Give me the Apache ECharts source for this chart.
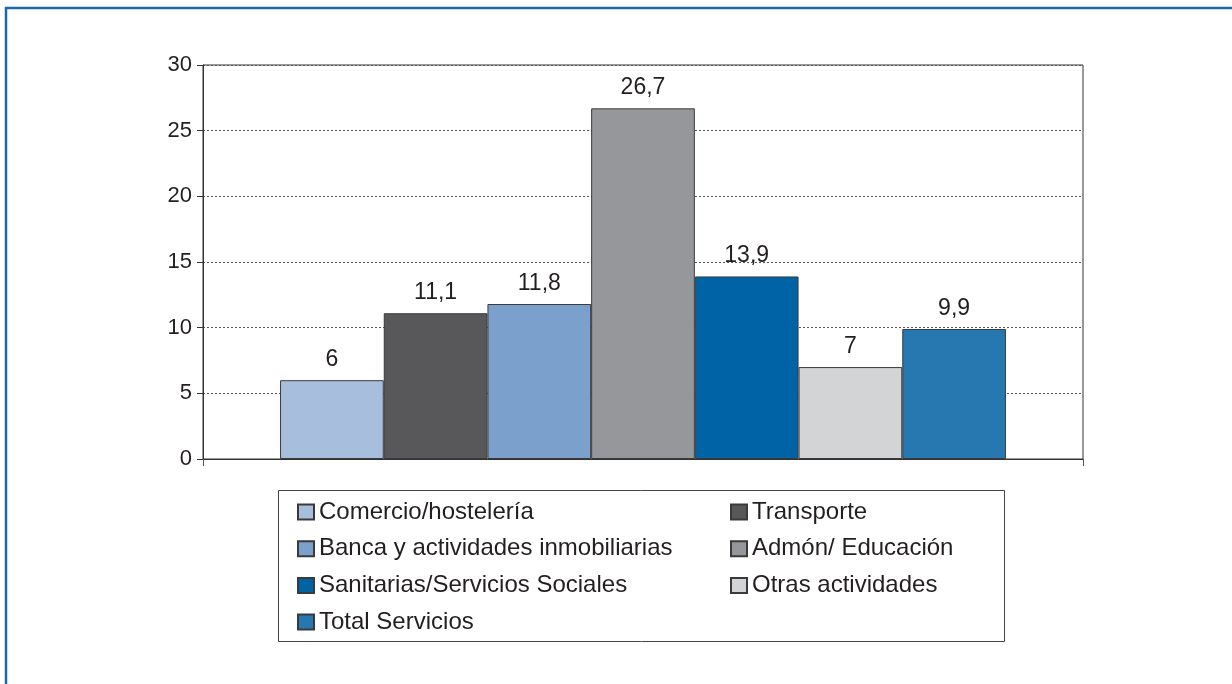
<!DOCTYPE html>
<html>
<head>
<meta charset="utf-8">
<script src="https://cdn.jsdelivr.net/npm/echarts@6/dist/echarts.min.js"></script>
<style>
html,body{margin:0;padding:0;background:#fff;}
#c{width:1232px;height:684px;}
</style>
</head>
<body>
<div id="c"></div>
<script>
const seriesNames = ["Comercio/hostelería","Transporte","Banca y actividades inmobiliarias","Admón/ Educación","Sanitarias/Servicios Sociales","Otras actividades","Total Servicios"];
const values = [6, 11.1, 11.8, 26.7, 13.9, 7, 9.9];
const colors = ["#a8bedd","#58585b","#7ba0cb","#96979a","#0063a6","#d3d4d6","#2777b0"];
const legendLeftCol = ["Comercio/hostelería","Banca y actividades inmobiliarias","Sanitarias/Servicios Sociales","Total Servicios"];
const legendRightCol = ["Transporte","Admón/ Educación","Otras actividades"];
const yMin = 0, yMax = 30, yStep = 5;

const font = "'Liberation Sans', Arial, Helvetica, sans-serif";
const chart = echarts.init(document.getElementById('c'), null, {renderer:'canvas'});

const series = seriesNames.map((n,i)=>({
  name: n,
  type: 'bar',
  data: [values[i]],
  barWidth: 103.7,
  barGap: '0%',
  itemStyle: {color: colors[i], borderColor: '#3a3a3a', borderWidth: 1},
  label: {
    show: true, position: 'top', distance: 9,
    fontFamily: font, fontSize: 23, color: '#231f20',
    formatter: p => String(p.value).replace('.', ',')
  },
  emphasis: {disabled: true}
}));

const legendCommon = {
  orient: 'vertical', padding: 0, icon: 'rect',
  itemWidth: 16, itemHeight: 15, itemGap: 12.7,
  selectedMode: false,
  textStyle: {fontFamily: font, fontSize: 24, color: '#231f20', lineHeight: 24}
};

chart.setOption({
  animation: false,
  backgroundColor: '#fff',
  grid: {left: 203, right: 149, top: 65, bottom: 225, show: true, borderColor: '#333', borderWidth: 1, backgroundColor: 'transparent'},
  xAxis: {
    type: 'category', data: [''],
    axisLine: {lineStyle: {color: '#333', width: 1}},
    axisTick: {show: true, length: 7, lineStyle: {color: '#555'}},
    axisLabel: {show: false}
  },
  yAxis: {
    type: 'value', min: yMin, max: yMax, interval: yStep,
    axisLine: {show: true, lineStyle: {color: '#333', width: 1}},
    axisTick: {show: true, length: 6, lineStyle: {color: '#333'}},
    axisLabel: {fontFamily: font, fontSize: 22, color: '#231f20', margin: 11},
    splitLine: {show: true, lineStyle: {color: '#555', width: 1, type: [2,2]}}
  },
  legend: [
    Object.assign({}, legendCommon, {data: legendLeftCol, left: 297, top: 500}),
    Object.assign({}, legendCommon, {data: legendRightCol, left: 730, top: 500})
  ],
  graphic: [
    {type: 'rect', shape: {x: 278.5, y: 490.5, width: 726, height: 151}, style: {fill: 'none', stroke: '#444', lineWidth: 1}, z: -1},
    {type: 'line', shape: {x1: 5, y1: 8, x2: 1232, y2: 8}, style: {stroke: '#1a68a8', lineWidth: 2.5}},
    {type: 'line', shape: {x1: 6, y1: 7, x2: 6, y2: 684}, style: {stroke: '#1a68a8', lineWidth: 2.5}}
  ],
  series: series
});
</script>
</body>
</html>
